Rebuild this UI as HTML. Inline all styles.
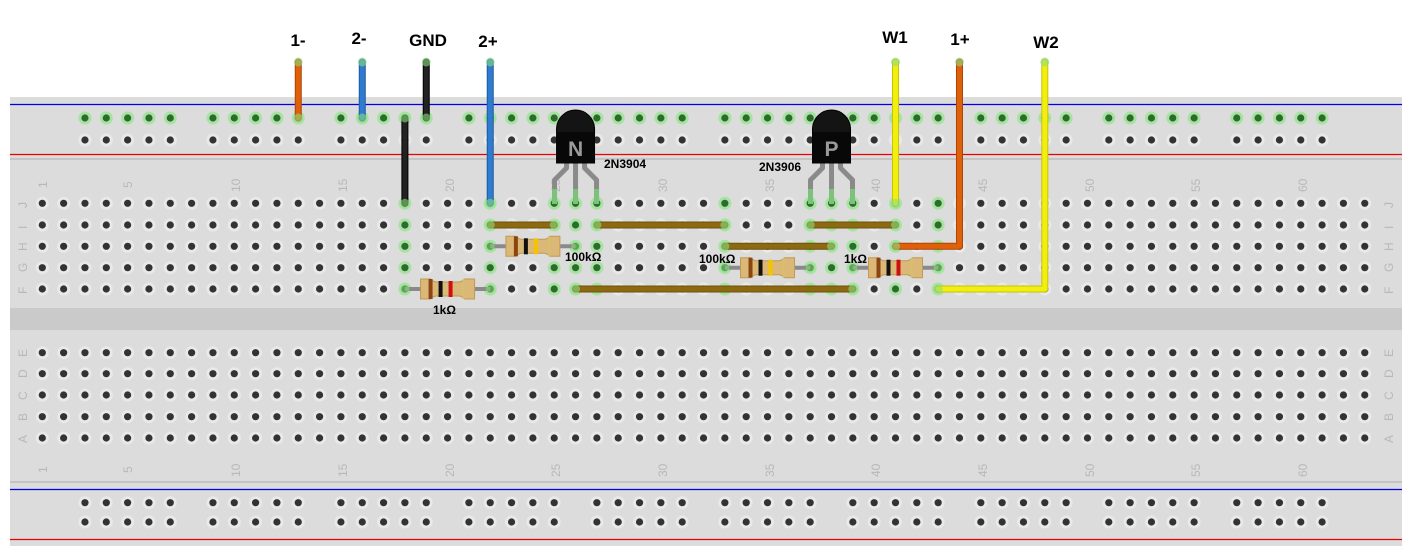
<!DOCTYPE html>
<html><head><meta charset="utf-8"><style>
html,body{margin:0;padding:0;background:#fff;}
svg{display:block;}
text{font-family:"Liberation Sans",sans-serif;}
</style></head><body>
<svg id="s" width="1412" height="556" viewBox="0 0 1412 556" xmlns="http://www.w3.org/2000/svg">
<rect x="0" y="0" width="1412" height="556" fill="#fff"/>
<rect x="10" y="97" width="1392" height="449" fill="#dcdcdc"/>
<rect x="10" y="158" width="1392" height="2" fill="#c4c4c4"/>
<rect x="10" y="308" width="1392" height="22" fill="#cbcaca"/>
<rect x="10" y="481" width="1392" height="2" fill="#c4c4c4"/>
<line x1="10" y1="104.5" x2="1402" y2="104.5" stroke="#0000ee" stroke-width="1.2"/>
<line x1="10" y1="154.5" x2="1402" y2="154.5" stroke="#ee0000" stroke-width="1.2"/>
<line x1="10" y1="489.5" x2="1402" y2="489.5" stroke="#0000ee" stroke-width="1.2"/>
<line x1="10" y1="539.5" x2="1402" y2="539.5" stroke="#ee0000" stroke-width="1.2"/>
<g id="holes"></g>
<g font-size="12" fill="#b8b8b8">
<text transform="translate(47,188) rotate(-90)">1</text>
<text transform="translate(132,188) rotate(-90)">5</text>
<text transform="translate(240,192) rotate(-90)">10</text>
<text transform="translate(347,192) rotate(-90)">15</text>
<text transform="translate(454,192) rotate(-90)">20</text>
<text transform="translate(560,192) rotate(-90)">25</text>
<text transform="translate(667,192) rotate(-90)">30</text>
<text transform="translate(774,192) rotate(-90)">35</text>
<text transform="translate(880,192) rotate(-90)">40</text>
<text transform="translate(987,192) rotate(-90)">45</text>
<text transform="translate(1094,192) rotate(-90)">50</text>
<text transform="translate(1200,192) rotate(-90)">55</text>
<text transform="translate(1307,192) rotate(-90)">60</text>
<text transform="translate(47,473) rotate(-90)">1</text>
<text transform="translate(132,473) rotate(-90)">5</text>
<text transform="translate(240,477) rotate(-90)">10</text>
<text transform="translate(347,477) rotate(-90)">15</text>
<text transform="translate(454,477) rotate(-90)">20</text>
<text transform="translate(560,477) rotate(-90)">25</text>
<text transform="translate(667,477) rotate(-90)">30</text>
<text transform="translate(774,477) rotate(-90)">35</text>
<text transform="translate(880,477) rotate(-90)">40</text>
<text transform="translate(987,477) rotate(-90)">45</text>
<text transform="translate(1094,477) rotate(-90)">50</text>
<text transform="translate(1200,477) rotate(-90)">55</text>
<text transform="translate(1307,477) rotate(-90)">60</text>
<text transform="translate(27,208) rotate(-90)">J</text>
<text transform="translate(27,229) rotate(-90)">I</text>
<text transform="translate(27,251) rotate(-90)">H</text>
<text transform="translate(27,272) rotate(-90)">G</text>
<text transform="translate(27,294) rotate(-90)">F</text>
<text transform="translate(27,357) rotate(-90)">E</text>
<text transform="translate(27,378) rotate(-90)">D</text>
<text transform="translate(27,400) rotate(-90)">C</text>
<text transform="translate(27,421) rotate(-90)">B</text>
<text transform="translate(27,443) rotate(-90)">A</text>
<text transform="translate(1393,208) rotate(-90)">J</text>
<text transform="translate(1393,229) rotate(-90)">I</text>
<text transform="translate(1393,251) rotate(-90)">H</text>
<text transform="translate(1393,272) rotate(-90)">G</text>
<text transform="translate(1393,294) rotate(-90)">F</text>
<text transform="translate(1393,357) rotate(-90)">E</text>
<text transform="translate(1393,378) rotate(-90)">D</text>
<text transform="translate(1393,400) rotate(-90)">C</text>
<text transform="translate(1393,421) rotate(-90)">B</text>
<text transform="translate(1393,443) rotate(-90)">A</text>
</g>
<g id="parts"></g>
<g font-size="17" font-weight="bold" fill="#000" text-anchor="middle">
<text x="298" y="46">1-</text>
<text x="359" y="44">2-</text>
<text x="428" y="46">GND</text>
<text x="488" y="47">2+</text>
<text x="895" y="43">W1</text>
<text x="960" y="45">1+</text>
<text x="1046" y="48">W2</text>
</g>
<g font-size="12" font-weight="bold" fill="#000">
<text x="433" y="314">1kΩ</text>
<text x="565" y="261">100kΩ</text>
<text x="699" y="263">100kΩ</text>
<text x="844" y="263">1kΩ</text>
<text x="604" y="168">2N3904</text>
<text x="759" y="171">2N3906</text>
</g>
</svg>
<script>
var NS="http://www.w3.org/2000/svg";
function cx(n){return 42.3+(n-1)*21.33;}
function el(p,t,a){var e=document.createElementNS(NS,t);for(var k in a)e.setAttribute(k,a[k]);p.appendChild(e);return e;}
var H=document.getElementById("holes");
function hole(x,y,g){el(H,"circle",{cx:x,cy:y,r:6.5,fill:g?"#a6e3a0":"#e9e9e9"});el(H,"circle",{cx:x,cy:y,r:3.6,fill:g?"#2f6a2f":"#333"});}
var green=[18,22,25,26,27,33,37,38,39,41,43];
var up=[203.3,225,246.3,267.7,289],lo=[352.7,373.7,395,416.7,438];
for(var c=1;c<=63;c++){for(var i=0;i<5;i++){hole(cx(c),up[i],green.indexOf(c)>=0);hole(cx(c),lo[i],false);}}
for(var g=0;g<10;g++)for(var k=0;k<5;k++){var c=3+g*6+k;hole(cx(c),118,true);hole(cx(c),140,false);hole(cx(c),502.7,false);hole(cx(c),522,false);}
var P=document.getElementById("parts");
function wire(pts,col,dark){var d="M"+pts.map(function(p){return p[0]+","+p[1]}).join(" L");
el(P,"path",{d:d,stroke:dark,"stroke-width":7,fill:"none","stroke-linejoin":"round","stroke-linecap":"round"});
el(P,"path",{d:d,stroke:col,"stroke-width":5,fill:"none","stroke-linejoin":"round","stroke-linecap":"round"});
[pts[0],pts[pts.length-1]].forEach(function(p){el(P,"circle",{cx:p[0],cy:p[1],r:4.5,fill:"#8edb82","fill-opacity":0.6});});}
var Y=203.3,I=225,Hh=246.3,G=267.7,F=289;
// jumpers
var br="#8c6a12",brd="#6d5208";
wire([[cx(22),I],[cx(25),I]],br,brd);
wire([[cx(27),I],[cx(33),I]],br,brd);
wire([[cx(37),I],[cx(41),I]],br,brd);
wire([[cx(33),Hh],[cx(38),Hh]],br,brd);
wire([[cx(26),F],[cx(39),F]],br,brd);
// wires
wire([[cx(13),62],[cx(13),118]],"#e0600a","#a84608");
wire([[cx(16),62],[cx(16),118]],"#2f7bd0","#1d5aa0");
wire([[cx(19),62],[cx(19),118]],"#222","#000");
wire([[cx(18),118],[cx(18),Y]],"#222","#000");
wire([[cx(22),62],[cx(22),Y]],"#2f7bd0","#1d5aa0");
wire([[cx(41),62],[cx(41),Y]],"#f2ee10","#c8c400");
wire([[cx(44),62],[cx(44),Hh],[cx(41),Hh]],"#e0600a","#a84608");
wire([[cx(48),62],[cx(48),F],[cx(43),F]],"#f2ee10","#c8c400");
// resistors
function res(c1,c2,y,b3){var x1=cx(c1),x2=cx(c2),m=(x1+x2)/2;
el(P,"line",{x1:x1,y1:y,x2:x2,y2:y,stroke:"#8a8a8a","stroke-width":4});
el(P,"path",{d:"M"+(m-27)+","+(y-10)+" h10 q3,3 6,3 h22 q3,0 6,-3 h10 v20 h-10 q-3,-3 -6,-3 h-22 q-3,0 -6,3 h-10 z",fill:"#dbb877",stroke:"#c09a55","stroke-width":1});
el(P,"rect",{x:m-19,y:y-10,width:4,height:20,fill:"#8b4513"});
el(P,"rect",{x:m-9,y:y-8,width:4,height:16,fill:"#111"});
el(P,"rect",{x:m+1,y:y-8,width:4,height:16,fill:b3});
el(P,"rect",{x:m+15,y:y-10,width:2,height:20,fill:"#d4c070"});
[x1,x2].forEach(function(x){el(P,"circle",{cx:x,cy:y,r:4.5,fill:"#8edb82","fill-opacity":0.5});});}
res(18,22,F,"#cc1111");
res(22,26,Hh,"#f5c400");
res(33,37,G,"#f5c400");
res(39,43,G,"#cc1111");
// transistors
function tr(c,ch){var x=cx(c);
var lg={stroke:"#8a8a8a","stroke-width":5,fill:"none","stroke-linejoin":"round"};
el(P,"path",Object.assign({d:"M"+(x-9)+",160 L"+(x-9)+",168 L"+(x-21)+",180 L"+(x-21)+","+Y},lg));
el(P,"path",Object.assign({d:"M"+x+",160 L"+x+","+Y},lg));
el(P,"path",Object.assign({d:"M"+(x+9)+",160 L"+(x+9)+",168 L"+(x+21)+",180 L"+(x+21)+","+Y},lg));
[x-21,x,x+21].forEach(function(xx){el(P,"rect",{x:xx-2.5,y:189,width:5,height:15,fill:"#7cc27a"});});
el(P,"path",{d:"M"+(x-19)+",163 L"+(x-19)+",129 A19,19 0 0 1 "+(x+19)+",129 L"+(x+19)+",163 z",fill:"#141414",stroke:"#000","stroke-width":1});
el(P,"rect",{x:x-19,y:132,width:38,height:31,fill:"#080808"});
var t=el(P,"text",{x:x,y:156,"text-anchor":"middle","font-size":21,"font-weight":"bold",fill:"#9a9a9a"});t.textContent=ch;}
tr(26,"N");tr(38,"P");
</script>
</body></html>
